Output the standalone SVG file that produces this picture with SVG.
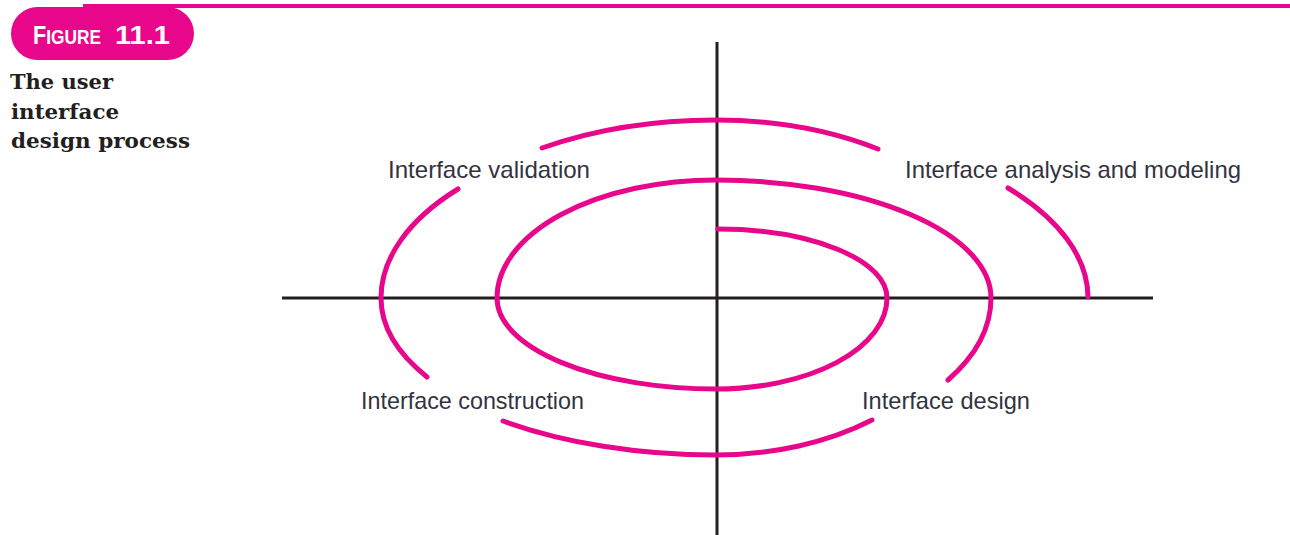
<svg xmlns="http://www.w3.org/2000/svg" width="1290" height="535" viewBox="0 0 1290 535">
  <style>
    .spiral { fill: none; stroke: #E8068A; stroke-width: 5; stroke-linecap: round; }
    .axis { stroke: #231F20; stroke-width: 3; }
    .lbl { font-family: "Liberation Sans Narrow", "Liberation Sans", Arial, sans-serif; font-size: 24px; fill: #33333F; }
    .cap { font-family: "DejaVu Serif", "Liberation Serif", serif; font-size: 21px; font-weight: bold; fill: #231F20; }
    .fig { font-family: "Liberation Sans Narrow", "Liberation Sans", Arial, sans-serif; font-weight: bold; fill: #FFFFFF; }
  </style>
  <rect width="1290" height="535" fill="#FFFFFF"/>

  <g id="header">
    <rect x="83" y="4" width="1207" height="4" fill="#E8068A"/>
    <rect x="11" y="7" width="183" height="53" rx="26.5" fill="#E8068A"/>
    <text class="fig" x="33" y="44" textLength="68" lengthAdjust="spacingAndGlyphs"><tspan font-size="25">F</tspan><tspan font-size="20">IGURE</tspan></text>
    <text class="fig" x="115" y="44" font-size="25" textLength="55" lengthAdjust="spacingAndGlyphs">11.1</text>
  </g>

  <g id="caption">
    <text class="cap" x="10" y="89" textLength="103" lengthAdjust="spacingAndGlyphs">The user</text>
    <text class="cap" x="11" y="119" textLength="108" lengthAdjust="spacingAndGlyphs">interface</text>
    <text class="cap" x="11" y="148" textLength="179" lengthAdjust="spacingAndGlyphs">design process</text>
  </g>

  <g id="axes">
    <line class="axis" x1="282" y1="298" x2="1153" y2="298"/>
    <line class="axis" x1="717" y1="42" x2="717" y2="535"/>
  </g>

  <g id="connectors">
    <path id="inner-spiral" class="spiral" d="M718 229 A169 69 0 0 1 887 298 A171 91 0 0 1 716 389 A219 91 0 0 1 497 298 A219 118 0 0 1 716 180 A275 118 0 0 1 991 298 A275 153 0 0 1 948 380"/>
    <path id="outer-bottom" class="spiral" d="M503 421 A343 157 0 0 0 716 455 A248 157 0 0 0 872 420"/>
    <path id="outer-left" class="spiral" d="M458 189 A335 171 0 0 0 381 298 A335 156 0 0 0 427 377"/>
    <path id="outer-top" class="spiral" d="M542 148 A323 178 0 0 1 716 120 A296 178 0 0 1 878 149"/>
    <path id="outer-right" class="spiral" d="M1008 188 A372 177 0 0 1 1088 297"/>
  </g>

  <g id="label-validation">
    <text class="lbl" x="388" y="178" textLength="202" lengthAdjust="spacingAndGlyphs">Interface validation</text>
  </g>
  <g id="label-analysis">
    <text class="lbl" x="905" y="178" textLength="336" lengthAdjust="spacingAndGlyphs">Interface analysis and modeling</text>
  </g>
  <g id="label-construction">
    <text class="lbl" x="361" y="409" textLength="223" lengthAdjust="spacingAndGlyphs">Interface construction</text>
  </g>
  <g id="label-design">
    <text class="lbl" x="862" y="409" textLength="168" lengthAdjust="spacingAndGlyphs">Interface design</text>
  </g>
</svg>
